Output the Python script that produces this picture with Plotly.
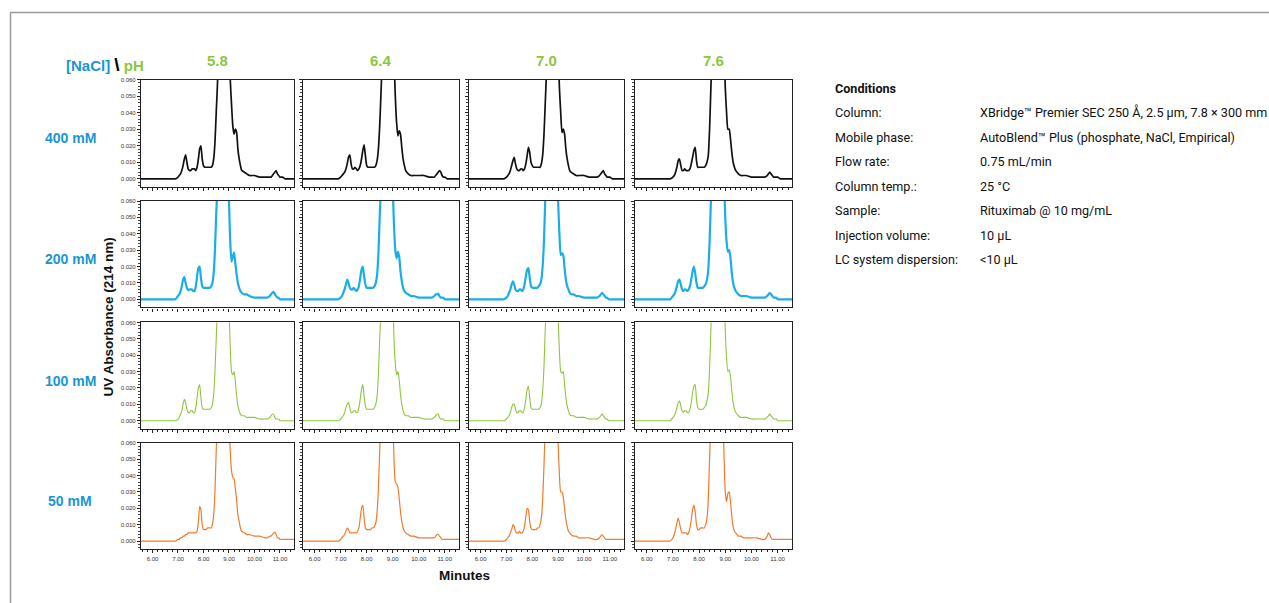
import plotly.graph_objects as go

W, H = 1269, 603

# ---------------- data ----------------
time_min = [5.55, 6.00, 6.50, 6.80, 6.90,
            7.00, 7.05, 7.10, 7.15, 7.20, 7.25, 7.30, 7.35, 7.40, 7.45,
            7.50, 7.55, 7.60, 7.65, 7.70, 7.75, 7.80, 7.85, 7.90, 7.95,
            8.00, 8.05, 8.10, 8.15, 8.20, 8.25, 8.30, 8.35,
            8.40, 8.45, 8.50, 8.55, 8.60, 8.70, 8.80, 8.90, 9.00, 9.05, 9.10,
            9.15, 9.20, 9.25, 9.30, 9.35, 9.40, 9.45, 9.50, 9.60, 9.70, 9.80,
            10.00, 10.20, 10.40, 10.50, 10.60, 10.65, 10.70, 10.75, 10.80, 10.85,
            10.90, 10.95, 11.00, 11.10, 11.20, 11.40, 11.55]

nacl_labels = ["400 mM", "200 mM", "100 mM", "50 mM"]
ph_labels = ["5.8", "6.4", "7.0", "7.6"]
x_tick_vals = [6, 7, 8, 9, 10, 11]
y_tick_vals = [0.0, 0.01, 0.02, 0.03, 0.04, 0.05, 0.06]

# 400 mM NaCl
abs_400_58 = [0, 0, 0, 0, 0,
              .001, .002, .003, .005, .008, .012, .0145, .010, .006, .005,
              .005, .006, .006, .006, .005, .007, .012, .018, .020, .012,
              .008, .007, .007, .007, .007, .007, .007, .008,
              .012, .022, .040, .058, .085, .20, .28, .20, .09, .06, .045,
              .032, .027, .030, .028, .018, .012, .008, .005, .004, .003, .002,
              .002, .001, .001, .001, .001, .001, .002, .003, .004, .005,
              .003, .002, .001, .001, 0, 0, 0]
abs_400_64 = [0, 0, 0, 0, 0,
              .001, .002, .003, .004, .006, .009, .013, .0145, .009, .006,
              .006, .007, .006, .005, .006, .008, .012, .017, .0205, .014,
              .008, .007, .007, .007, .007, .007, .007, .008,
              .011, .018, .032, .052, .075, .18, .28, .22, .12, .075, .05,
              .034, .026, .029, .027, .019, .012, .008, .005, .003, .002, .002,
              .002, .002, .001, .001, .001, .002, .003, .004, .005, .004,
              .002, .001, .001, 0, 0, 0, 0]
abs_400_70 = [0, 0, 0, 0, 0,
              .001, .002, .003, .005, .008, .011, .013, .009, .006, .005,
              .005, .006, .006, .005, .006, .009, .014, .019, .016, .010,
              .008, .007, .007, .007, .007, .007, .007, .009,
              .014, .026, .045, .065, .09, .20, .27, .19, .08, .055, .04,
              .028, .030, .027, .018, .012, .008, .005, .004, .003, .002, .002,
              .002, .001, .001, .001, .002, .003, .004, .005, .003, .002,
              .001, .001, .001, 0, 0, 0, 0]
abs_400_76 = [0, 0, 0, 0, 0,
              .001, .002, .004, .007, .011, .012, .008, .005, .005, .006,
              .005, .005, .005, .006, .009, .013, .017, .019, .011, .007,
              .007, .007, .007, .007, .007, .008, .010, .014,
              .030, .055, .08, .12, .18, .28, .22, .11, .055, .04, .030,
              .030, .024, .016, .010, .007, .005, .004, .003, .002, .002, .002,
              .001, .001, .001, .001, .002, .003, .004, .003, .002, .001,
              .001, .001, .001, 0, 0, 0, 0]

# 200 mM NaCl
abs_200_58 = [0, 0, 0, 0, 0,
              .002, .003, .005, .008, .012, .0136, .010, .007, .0055, .006,
              .006, .006, .005, .005, .008, .014, .019, .020, .013, .008,
              .007, .007, .007, .007, .007, .007, .008, .010,
              .016, .030, .052, .07, .10, .22, .27, .15, .06, .035, .023,
              .026, .0285, .022, .015, .010, .007, .005, .004, .003, .003, .002,
              .001, .001, .001, .001, .002, .003, .004, .0046, .003, .002,
              .001, .001, 0, 0, 0, 0, 0]
abs_200_64 = [0, 0, 0, 0, 0,
              .001, .002, .004, .006, .009, .012, .010, .007, .006, .006,
              .007, .006, .005, .006, .008, .013, .018, .020, .014, .009,
              .007, .007, .007, .007, .007, .007, .008, .010,
              .015, .028, .05, .07, .10, .22, .27, .17, .07, .045, .03,
              .025, .029, .026, .017, .011, .007, .005, .004, .003, .002, .002,
              .001, .001, .001, .001, .002, .003, .003, .0035, .002, .001,
              .001, .001, 0, 0, 0, 0, 0]
abs_200_70 = [0, 0, 0, 0, 0,
              .001, .002, .004, .006, .009, .011, .009, .006, .005, .005,
              .006, .006, .005, .006, .009, .014, .018, .019, .013, .008,
              .007, .007, .007, .007, .007, .008, .009, .012,
              .02, .035, .06, .08, .12, .24, .26, .15, .06, .04, .027,
              .028, .027, .019, .012, .008, .006, .004, .003, .003, .002, .002,
              .001, .001, .001, .001, .002, .003, .004, .003, .002, .001,
              .001, 0, 0, 0, 0, 0, 0]
abs_200_76 = [0, 0, 0, 0, 0,
              .002, .003, .005, .008, .011, .012, .009, .006, .005, .006,
              .006, .005, .006, .008, .012, .017, .020, .016, .010, .007,
              .007, .007, .007, .007, .008, .009, .012, .018,
              .035, .06, .09, .13, .19, .28, .20, .10, .05, .035, .029,
              .030, .025, .016, .010, .007, .005, .004, .003, .002, .002, .002,
              .001, .001, .001, .001, .002, .003, .004, .003, .002, .001,
              .001, .001, 0, 0, 0, 0, 0]

# 100 mM NaCl
abs_100_58 = [0, 0, 0, 0, 0,
              .001, .002, .004, .006, .010, .013, .011, .007, .005, .005,
              .006, .006, .005, .005, .008, .014, .020, .022, .014, .008,
              .007, .007, .007, .007, .007, .007, .008, .010,
              .016, .03, .05, .07, .10, .22, .27, .16, .07, .045, .03,
              .028, .030, .024, .015, .009, .006, .004, .003, .003, .002, .002,
              .002, .001, .001, .001, .002, .003, .004, .004, .002, .001,
              .001, .001, 0, 0, 0, 0, 0]
abs_100_64 = [0, 0, 0, 0, 0,
              .001, .002, .003, .005, .008, .010, .011, .008, .005, .005,
              .006, .006, .005, .005, .008, .013, .019, .022, .015, .009,
              .007, .007, .007, .007, .007, .007, .008, .010,
              .015, .028, .05, .07, .10, .22, .27, .17, .08, .05, .035,
              .028, .030, .025, .016, .010, .006, .004, .003, .003, .002, .002,
              .002, .001, .001, .001, .002, .003, .004, .004, .002, .001,
              .001, .001, 0, 0, 0, 0, 0]
abs_100_70 = [0, 0, 0, 0, 0,
              .001, .002, .003, .005, .008, .010, .010, .007, .005, .005,
              .006, .006, .005, .005, .008, .013, .019, .021, .014, .008,
              .007, .007, .007, .007, .007, .007, .008, .010,
              .018, .032, .055, .075, .11, .23, .26, .15, .065, .042, .03,
              .029, .030, .022, .014, .009, .006, .004, .003, .003, .002, .002,
              .002, .001, .001, .001, .002, .003, .004, .003, .002, .001,
              .001, 0, 0, 0, 0, 0, 0]
abs_100_76 = [0, 0, 0, 0, 0,
              .002, .003, .005, .008, .011, .012, .009, .006, .005, .006,
              .006, .005, .005, .007, .011, .017, .021, .022, .013, .008,
              .007, .007, .007, .007, .008, .009, .012, .017,
              .032, .055, .085, .12, .18, .28, .21, .11, .055, .038, .030,
              .031, .027, .018, .011, .007, .005, .004, .003, .002, .002, .002,
              .001, .001, .001, .001, .002, .003, .004, .003, .002, .001,
              .001, .001, 0, 0, 0, 0, 0]

# 50 mM NaCl
abs_50_58 = [0, 0, 0, 0, 0,
             .001, .001, .002, .002, .003, .003, .004, .004, .005, .005,
             .005, .005, .005, .005, .005, .006, .012, .021, .019, .010,
             .007, .007, .007, .008, .008, .008, .008, .010,
             .016, .030, .055, .075, .10, .22, .28, .20, .075, .055, .043,
             .039, .038, .032, .025, .016, .012, .008, .006, .005, .004, .004,
             .003, .003, .002, .002, .003, .003, .004, .005, .0055, .004,
             .002, .002, .001, .001, .001, .001, .001]
abs_50_64 = [0, 0, 0, 0, 0,
             .001, .002, .003, .004, .006, .008, .007, .005, .005, .005,
             .005, .005, .005, .006, .008, .014, .020, .022, .014, .008,
             .007, .007, .007, .007, .008, .008, .009, .011,
             .018, .032, .055, .075, .10, .22, .28, .19, .08, .05, .036,
             .035, .033, .026, .018, .012, .008, .006, .005, .004, .003, .003,
             .002, .002, .002, .002, .002, .003, .004, .004, .003, .002,
             .001, .001, .001, .001, .001, .001, .001]
abs_50_70 = [0, 0, 0, 0, 0,
             .001, .002, .003, .005, .007, .010, .009, .006, .005, .005,
             .006, .005, .005, .006, .009, .015, .020, .019, .012, .008,
             .007, .007, .007, .007, .008, .008, .010, .014,
             .025, .045, .07, .10, .14, .25, .25, .14, .06, .04, .030,
             .030, .027, .020, .013, .009, .006, .005, .004, .003, .003, .002,
             .002, .002, .001, .001, .002, .003, .004, .003, .002, .001,
             .001, .001, .001, .001, .001, .001, .001]
abs_50_76 = [0, 0, 0, 0, 0,
             .002, .004, .007, .011, .014, .011, .007, .005, .005, .005,
             .005, .004, .005, .008, .013, .019, .022, .018, .010, .007,
             .007, .008, .008, .008, .008, .010, .014, .025,
             .05, .075, .10, .14, .20, .28, .20, .09, .030, .024, .029,
             .030, .024, .015, .009, .006, .005, .004, .003, .003, .002, .002,
             .002, .002, .001, .001, .003, .005, .004, .002, .001, .001,
             .001, .001, .001, .001, .001, .001, .001]

cond_labels = ["Column:", "Mobile phase:", "Flow rate:", "Column temp.:",
               "Sample:", "Injection volume:", "LC system dispersion:"]
cond_values = ["XBridge\u2122 Premier SEC 250 \u00c5, 2.5 \u00b5m, 7.8 \u00d7 300 mm",
               "AutoBlend\u2122 Plus (phosphate, NaCl, Empirical)",
               "0.75 mL/min", "25 \u00b0C", "Rituximab @ 10 mg/mL",
               "10 \u00b5L", "<10 \u00b5L"]

grid = [
    [abs_400_58, abs_400_64, abs_400_70, abs_400_76],
    [abs_200_58, abs_200_64, abs_200_70, abs_200_76],
    [abs_100_58, abs_100_64, abs_100_70, abs_100_76],
    [abs_50_58, abs_50_64, abs_50_70, abs_50_76],
]

# ---------------- style / layout ----------------
row_colors = ["#111111", "#1aaee8", "#8cc63f", "#f47a2c"]
row_widths = [1.7, 2.2, 1.1, 1.2]
col_px = [(141, 294), (303, 459), (469, 624), (635, 792)]
row_px = [(77, 185), (199, 306), (321, 428), (442, 549)]
BLUE = "#1a95d3"
GREEN = "#8cc63f"
TICKFONT = dict(family="Liberation Sans, Arial", size=6, color="#333333")


def fx(px):
    return px / W


def fy(py):
    return 1 - py / H


fig = go.Figure()
layout = {}
k = 0
for r in range(4):
    for c in range(4):
        k += 1
        ys = grid[r][c]
        assert len(ys) == len(time_min), (r, c, len(ys))
        xa = "xaxis" if k == 1 else f"xaxis{k}"
        ya = "yaxis" if k == 1 else f"yaxis{k}"
        xr = "x" if k == 1 else f"x{k}"
        yr = "y" if k == 1 else f"y{k}"
        fig.add_trace(go.Scatter(x=time_min, y=ys, mode="lines", xaxis=xr, yaxis=yr,
                                 line=dict(color=row_colors[r], width=row_widths[r],
                                           shape="spline", smoothing=0.5),
                                 showlegend=False, hoverinfo="skip"))
        layout[xa] = dict(domain=[fx(col_px[c][0]), fx(col_px[c][1])], anchor=yr,
                          range=[5.55, 11.55], tickvals=x_tick_vals,
                          ticktext=[f"{v:.2f}" for v in x_tick_vals],
                          showticklabels=(r == 3), ticks="outside", ticklen=3,
                          tickcolor="#222", tickwidth=1,
                          minor=dict(dtick=0.2, ticks="outside", ticklen=2, tickcolor="#222"),
                          showline=True, mirror=True, linecolor="#222", linewidth=1.2,
                          showgrid=False, zeroline=False, tickfont=TICKFONT)
        layout[ya] = dict(domain=[fy(row_px[r][1]), fy(row_px[r][0])], anchor=xr,
                          range=[-0.005, 0.060], tickvals=y_tick_vals,
                          ticktext=[f"{v:.3f}" for v in y_tick_vals],
                          showticklabels=(c == 0), ticks="outside", ticklen=3,
                          tickcolor="#222", tickwidth=1,
                          minor=dict(dtick=0.002, ticks="outside", ticklen=1.5, tickcolor="#444"),
                          showline=True, mirror=True, linecolor="#222", linewidth=1.2,
                          showgrid=False, zeroline=False, tickfont=TICKFONT)

annotations = []
# header
annotations.append(dict(x=fx(64), y=fy(62), xref="paper", yref="paper", xanchor="left",
                        yanchor="middle", showarrow=False,
                        text=f"<b><span style='color:{BLUE}'>[NaCl]</span> "
                             f"<span style='color:#000;font-size:19px'>\\</span> "
                             f"<span style='color:{GREEN}'>pH</span></b>",
                        font=dict(family="Liberation Sans, Arial", size=15)))
for c, lab in enumerate(ph_labels):
    cx = (col_px[c][0] + col_px[c][1]) / 2
    annotations.append(dict(x=fx(cx), y=fy(58), xref="paper", yref="paper",
                            xanchor="center", yanchor="middle", showarrow=False,
                            text=f"<b>{lab}</b>",
                            font=dict(family="Liberation Sans, Arial", size=15, color=GREEN)))
for r, lab in enumerate(nacl_labels):
    cy = (row_px[r][0] + row_px[r][1]) / 2 + 5
    annotations.append(dict(x=fx(70), y=fy(cy), xref="paper", yref="paper",
                            xanchor="center", yanchor="middle", showarrow=False,
                            text=f"<b>{lab}</b>",
                            font=dict(family="Liberation Sans, Arial", size=14, color=BLUE)))
annotations.append(dict(x=fx(108), y=fy(316), xref="paper", yref="paper",
                        xanchor="center", yanchor="middle", showarrow=False, textangle=-90,
                        text="<b>UV Absorbance (214 nm)</b>",
                        font=dict(family="Liberation Sans, Arial", size=13.5, color="#111")))
annotations.append(dict(x=fx(465), y=fy(575), xref="paper", yref="paper",
                        xanchor="center", yanchor="middle", showarrow=False,
                        text="<b>Minutes</b>",
                        font=dict(family="Liberation Sans, Arial", size=13.5, color="#111")))
# conditions
CFONT = dict(family="Roboto, Liberation Sans", size=12.6, color="#111")
annotations.append(dict(x=fx(833), y=fy(86), xref="paper", yref="paper",
                        xanchor="left", yanchor="middle", showarrow=False,
                        text="<b>Conditions</b>", font=CFONT))
for i, (lab, val) in enumerate(zip(cond_labels, cond_values)):
    yy = 110 + i * 24.7
    annotations.append(dict(x=fx(833), y=fy(yy), xref="paper", yref="paper",
                            xanchor="left", yanchor="middle", showarrow=False,
                            text=lab, font=CFONT))
    annotations.append(dict(x=fx(978), y=fy(yy), xref="paper", yref="paper",
                            xanchor="left", yanchor="middle", showarrow=False,
                            text=val.replace("<", "&lt;"), font=CFONT))

shapes = [
    dict(type="line", xref="paper", yref="paper", x0=fx(10), x1=1, y0=fy(9.5), y1=fy(9.5),
         line=dict(color="#9a9a9a", width=1.5)),
    dict(type="line", xref="paper", yref="paper", x0=fx(10.5), x1=fx(10.5), y0=fy(9.5), y1=0,
         line=dict(color="#9a9a9a", width=1.5)),
]

fig.update_layout(width=W, height=H, margin=dict(l=0, r=0, t=0, b=0),
                  paper_bgcolor="white", plot_bgcolor="white",
                  annotations=annotations, shapes=shapes, **layout)

fig.write_html("out.html", config={"displayModeBar": False},
               post_script="document.body.style.margin='0';"
                           "document.documentElement.style.overflow='hidden';")
